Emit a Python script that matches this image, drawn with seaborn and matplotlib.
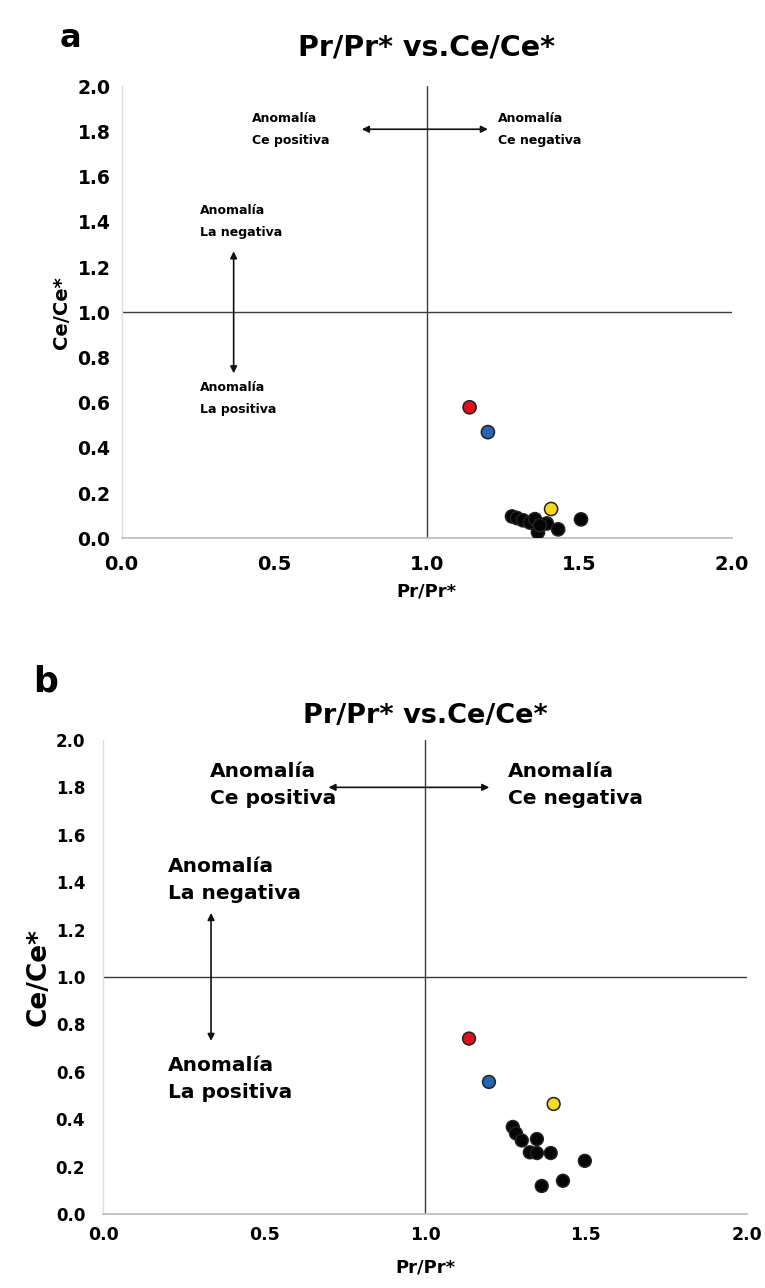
import matplotlib
matplotlib.use("Agg")
import matplotlib.pyplot as plt
import seaborn as sns
import pandas as pd

sns.set_theme(style="white")
plt.rcParams['font.family'] = ['DejaVu Sans']
plt.rcParams.update({"text.color": "black", "axes.labelcolor": "black",
                     "xtick.color": "black", "ytick.color": "black"})

# ---- data ----
groups = ["red", "blue", "yellow"] + ["black"] * 10
a_pr = [1.14, 1.20, 1.407, 1.279, 1.295, 1.315, 1.338, 1.354, 1.364, 1.393, 1.43, 1.505, 1.37]
a_ce = [0.58, 0.47, 0.13, 0.097, 0.09, 0.08, 0.07, 0.085, 0.027, 0.066, 0.04, 0.084, 0.058]
b_pr = [1.137, 1.199, 1.40, 1.273, 1.283, 1.301, 1.348, 1.326, 1.348, 1.391, 1.497, 1.429, 1.363]
b_ce = [0.74, 0.557, 0.464, 0.367, 0.34, 0.31, 0.316, 0.26, 0.257, 0.257, 0.224, 0.14, 0.118]
palette = {"red": "#e0121e", "blue": "#2763b5", "yellow": "#f4d821", "black": "#050505"}
ticks = [0.0, 0.5, 1.0, 1.5, 2.0]
yticks = [0.0, 0.2, 0.4, 0.6, 0.8, 1.0, 1.2, 1.4, 1.6, 1.8, 2.0]
title = "Pr/Pr* vs.Ce/Ce*"

fig = plt.figure(figsize=(7.65, 12.88), dpi=100)
ax_a = fig.add_axes([0.159, 0.582, 0.798, 0.351])
ax_b = fig.add_axes([0.135, 0.0575, 0.841, 0.368])


def draw(ax, pr, ce, c):
    df = pd.DataFrame({"pr": pr, "ce": ce, "g": groups})
    ax.axhline(1.0, color="#3a3a3a", lw=1.0, zorder=1)
    ax.axvline(1.0, color="#3a3a3a", lw=1.0, zorder=1)
    sns.scatterplot(data=df, x="pr", y="ce", hue="g", palette=palette, s=c["s"],
                    edgecolor="#222222", linewidth=1.1, legend=False, ax=ax, zorder=3)
    ax.set_xlim(0, 2)
    ax.set_ylim(0, 2)
    ax.set_xticks(ticks)
    ax.set_xticklabels([f"{t:.1f}" for t in ticks], fontsize=c["xt_fs"], fontweight="bold")
    ax.set_yticks(yticks)
    ax.set_yticklabels([f"{t:.1f}" for t in yticks], fontsize=c["yt_fs"], fontweight="bold")
    ax.tick_params(axis="y", length=0, pad=c["ypad"])
    ax.tick_params(axis="x", length=0, pad=c["xpad"])
    ax.set_xlabel("Pr/Pr*", fontsize=c["xl_fs"], fontweight="bold", labelpad=c["xlp"])
    ax.set_ylabel("Ce/Ce*", fontsize=c["yl_fs"], fontweight="bold", labelpad=c["ylp"])
    for sp in ["top", "right"]:
        ax.spines[sp].set_visible(False)
    ax.spines["bottom"].set_color("#bbbbbb")
    ax.spines["bottom"].set_linewidth(1.2)
    ax.spines["left"].set_color("#dddddd")
    ax.spines["left"].set_linewidth(1.0)
    kw = dict(fontsize=c["ann_fs"], fontweight="bold", ha="left", va="center",
              linespacing=c["ls"])
    ax.text(c["cepos_x"], c["ce_y"], "Anomalía\nCe positiva", **kw)
    ax.text(c["ceneg_x"], c["ce_y"], "Anomalía\nCe negativa", **kw)
    ax.text(c["la_x"], c["laneg_y"], "Anomalía\nLa negativa", **kw)
    ax.text(c["la_x"], c["lapos_y"], "Anomalía\nLa positiva", **kw)
    ap = dict(arrowstyle="<|-|>", color="#111111", lw=1.2, mutation_scale=10,
              shrinkA=0, shrinkB=0)
    ax.annotate("", xy=(c["h0"], c["hy"]), xytext=(c["h1"], c["hy"]), arrowprops=ap)
    ax.annotate("", xy=(c["vx"], c["v0"]), xytext=(c["vx"], c["v1"]), arrowprops=ap)


draw(ax_a, a_pr, a_ce,
     dict(s=90, xt_fs=14, yt_fs=13.5, xl_fs=13, yl_fs=14, ann_fs=9, ls=1.9,
          ypad=8, xpad=12, xlp=6, ylp=5,
          cepos_x=0.426, ceneg_x=1.233, ce_y=1.81,
          la_x=0.256, laneg_y=1.40, lapos_y=0.62,
          h0=0.787, h1=1.20, hy=1.81, vx=0.367, v0=0.73, v1=1.27))
draw(ax_b, b_pr, b_ce,
     dict(s=85, xt_fs=12.5, yt_fs=12, xl_fs=13, yl_fs=19, ann_fs=14.5, ls=1.55,
          ypad=13, xpad=9, xlp=10, ylp=3,
          cepos_x=0.332, ceneg_x=1.258, ce_y=1.81,
          la_x=0.20, laneg_y=1.41, lapos_y=0.57,
          h0=0.70, h1=1.20, hy=1.80, vx=0.335, v0=0.73, v1=1.27))

ax_a.set_title(title, fontsize=20.5, fontweight="bold", pad=22)
ax_b.set_title(title, fontsize=19.5, fontweight="bold", pad=12)
fig.text(0.092, 0.970, "a", fontsize=23, fontweight="bold", ha="center", va="center")
fig.text(0.060, 0.471, "b", fontsize=25, fontweight="bold", ha="center", va="center")

fig.savefig("out.png", dpi=100)
